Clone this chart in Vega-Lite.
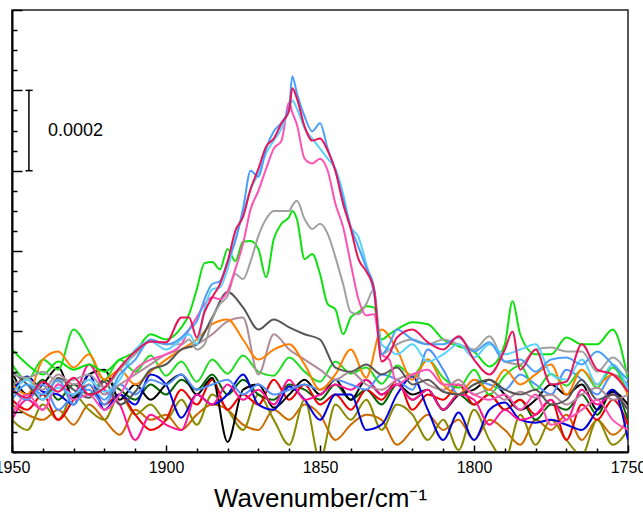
{
  "$schema": "https://vega.github.io/schema/vega-lite/v6.json",
  "width": 616,
  "height": 442,
  "autosize": {"type": "none"},
  "padding": {"left": 12, "top": 10, "right": 15, "bottom": 69},
  "background": "white",
  "config": {
    "view": {"stroke": "#222222", "strokeWidth": 1.5},
    "font": "Liberation Sans",
    "axis": {"zindex": 1},
    "axisX": {"zindex": 1},
    "axisY": {"zindex": 1}
  },
  "datasets": {
    "spectra": [
      {"wavenumber": 1950, "s01": 0.118, "s02": 0.080, "s03": 0.180, "s04": 0.130, "s05": 0.200, "s06": 0.148, "s07": 0.080, "s08": 0.155, "s09": 0.218, "s10": 0.168, "s11": 0.168, "s12": 0.200, "s13": 0.255, "s14": 0.193, "s15": 0.093, "s16": 0.143, "s17": 0.130, "s18": 0.155},
      {"wavenumber": 1945, "s01": 0.093, "s02": 0.055, "s03": 0.143, "s04": 0.105, "s05": 0.143, "s06": 0.188, "s07": 0.130, "s08": 0.130, "s09": 0.180, "s10": 0.180, "s11": 0.143, "s12": 0.168, "s13": 0.218, "s14": 0.185, "s15": 0.143, "s16": 0.180, "s17": 0.168, "s18": 0.135},
      {"wavenumber": 1940, "s01": 0.080, "s02": 0.118, "s03": 0.180, "s04": 0.143, "s05": 0.168, "s06": 0.150, "s07": 0.105, "s08": 0.168, "s09": 0.230, "s10": 0.155, "s11": 0.230, "s12": 0.130, "s13": 0.193, "s14": 0.200, "s15": 0.105, "s16": 0.130, "s17": 0.143, "s18": 0.175},
      {"wavenumber": 1935, "s01": 0.105, "s02": 0.080, "s03": 0.130, "s04": 0.080, "s05": 0.210, "s06": 0.143, "s07": 0.168, "s08": 0.105, "s09": 0.205, "s10": 0.193, "s11": 0.250, "s12": 0.185, "s13": 0.225, "s14": 0.175, "s15": 0.168, "s16": 0.160, "s17": 0.180, "s18": 0.150},
      {"wavenumber": 1930, "s01": 0.068, "s02": 0.143, "s03": 0.168, "s04": 0.130, "s05": 0.135, "s06": 0.118, "s07": 0.143, "s08": 0.143, "s09": 0.305, "s10": 0.168, "s11": 0.210, "s12": 0.155, "s13": 0.205, "s14": 0.180, "s15": 0.130, "s16": 0.143, "s17": 0.118, "s18": 0.185},
      {"wavenumber": 1925, "s01": 0.118, "s02": 0.105, "s03": 0.143, "s04": 0.168, "s05": 0.193, "s06": 0.193, "s07": 0.218, "s08": 0.155, "s09": 0.250, "s10": 0.180, "s11": 0.243, "s12": 0.135, "s13": 0.218, "s14": 0.193, "s15": 0.143, "s16": 0.180, "s17": 0.168, "s18": 0.143},
      {"wavenumber": 1920, "s01": 0.080, "s02": 0.080, "s03": 0.180, "s04": 0.118, "s05": 0.205, "s06": 0.105, "s07": 0.155, "s08": 0.118, "s09": 0.180, "s10": 0.143, "s11": 0.180, "s12": 0.175, "s13": 0.200, "s14": 0.160, "s15": 0.105, "s16": 0.150, "s17": 0.130, "s18": 0.160},
      {"wavenumber": 1915, "s01": 0.043, "s02": 0.143, "s03": 0.155, "s04": 0.143, "s05": 0.130, "s06": 0.143, "s07": 0.118, "s08": 0.168, "s09": 0.230, "s10": 0.168, "s11": 0.205, "s12": 0.118, "s13": 0.230, "s14": 0.205, "s15": 0.143, "s16": 0.180, "s17": 0.193, "s18": 0.210},
      {"wavenumber": 1910, "s01": 0.105, "s02": 0.093, "s03": 0.130, "s04": 0.093, "s05": 0.168, "s06": 0.118, "s07": 0.030, "s08": 0.143, "s09": 0.200, "s10": 0.193, "s11": 0.168, "s12": 0.150, "s13": 0.250, "s14": 0.243, "s15": 0.205, "s16": 0.255, "s17": 0.230, "s18": 0.250},
      {"wavenumber": 1905, "s01": 0.080, "s02": 0.118, "s03": 0.168, "s04": 0.055, "s05": 0.130, "s06": 0.193, "s07": 0.093, "s08": 0.180, "s09": 0.240, "s10": 0.218, "s11": 0.200, "s12": 0.205, "s13": 0.293, "s14": 0.275, "s15": 0.230, "s16": 0.275, "s17": 0.280, "s18": 0.275},
      {"wavenumber": 1900, "s01": 0.093, "s02": 0.080, "s03": 0.143, "s04": 0.080, "s05": 0.168, "s06": 0.168, "s07": 0.068, "s08": 0.168, "s09": 0.190, "s10": 0.243, "s11": 0.230, "s12": 0.218, "s13": 0.280, "s14": 0.268, "s15": 0.243, "s16": 0.255, "s17": 0.268, "s18": 0.273},
      {"wavenumber": 1895, "s01": 0.055, "s02": 0.130, "s03": 0.180, "s04": 0.155, "s05": 0.193, "s06": 0.085, "s07": 0.055, "s08": 0.193, "s09": 0.225, "s10": 0.255, "s11": 0.255, "s12": 0.255, "s13": 0.310, "s14": 0.268, "s15": 0.268, "s16": 0.280, "s17": 0.285, "s18": 0.335},
      {"wavenumber": 1890, "s01": 0.093, "s02": 0.068, "s03": 0.155, "s04": 0.118, "s05": 0.143, "s06": 0.143, "s07": 0.143, "s08": 0.155, "s09": 0.175, "s10": 0.268, "s11": 0.280, "s12": 0.268, "s13": 0.405, "s14": 0.255, "s15": 0.335, "s16": 0.268, "s17": 0.325, "s18": 0.285},
      {"wavenumber": 1885, "s01": 0.118, "s02": 0.143, "s03": 0.193, "s04": 0.180, "s05": 0.185, "s06": 0.118, "s07": 0.118, "s08": 0.168, "s09": 0.230, "s10": 0.293, "s11": 0.318, "s12": 0.335, "s13": 0.473, "s14": 0.330, "s15": 0.385, "s16": 0.405, "s17": 0.418, "s18": 0.385},
      {"wavenumber": 1880, "s01": 0.105, "s02": 0.105, "s03": 0.143, "s04": 0.105, "s05": 0.025, "s06": 0.143, "s07": 0.168, "s08": 0.180, "s09": 0.195, "s10": 0.325, "s11": 0.330, "s12": 0.398, "s13": 0.505, "s14": 0.388, "s15": 0.400, "s16": 0.455, "s17": 0.475, "s18": 0.473},
      {"wavenumber": 1875, "s01": 0.068, "s02": 0.055, "s03": 0.180, "s04": 0.143, "s05": 0.155, "s06": 0.193, "s07": 0.130, "s08": 0.143, "s09": 0.240, "s10": 0.335, "s11": 0.280, "s12": 0.360, "s13": 0.523, "s14": 0.430, "s15": 0.518, "s16": 0.593, "s17": 0.605, "s18": 0.585},
      {"wavenumber": 1870, "s01": 0.055, "s02": 0.143, "s03": 0.143, "s04": 0.118, "s05": 0.168, "s06": 0.118, "s07": 0.155, "s08": 0.168, "s09": 0.200, "s10": 0.193, "s11": 0.230, "s12": 0.305, "s13": 0.505, "s14": 0.538, "s15": 0.650, "s16": 0.693, "s17": 0.685, "s18": 0.705},
      {"wavenumber": 1865, "s01": 0.105, "s02": 0.080, "s03": 0.130, "s04": 0.180, "s05": 0.110, "s06": 0.105, "s07": 0.118, "s08": 0.143, "s09": 0.190, "s10": 0.293, "s11": 0.255, "s12": 0.330, "s13": 0.530, "s14": 0.600, "s15": 0.755, "s16": 0.775, "s17": 0.798, "s18": 0.780},
      {"wavenumber": 1860, "s01": 0.080, "s02": 0.018, "s03": 0.168, "s04": 0.130, "s05": 0.143, "s06": 0.163, "s07": 0.180, "s08": 0.155, "s09": 0.235, "s10": 0.255, "s11": 0.268, "s12": 0.310, "s13": 0.585, "s14": 0.600, "s15": 0.870, "s16": 0.855, "s17": 0.860, "s18": 0.850},
      {"wavenumber": 1855, "s01": 0.118, "s02": 0.130, "s03": 0.155, "s04": 0.168, "s05": 0.180, "s06": 0.130, "s07": 0.130, "s08": 0.168, "s09": 0.200, "s10": 0.230, "s11": 0.218, "s12": 0.293, "s13": 0.480, "s14": 0.580, "s15": 0.730, "s16": 0.805, "s17": 0.835, "s18": 0.810},
      {"wavenumber": 1850, "s01": 0.093, "s02": -0.020, "s03": 0.130, "s04": 0.118, "s05": 0.143, "s06": 0.080, "s07": 0.143, "s08": 0.155, "s09": 0.175, "s10": 0.205, "s11": 0.155, "s12": 0.280, "s13": 0.443, "s14": 0.568, "s15": 0.730, "s16": 0.755, "s17": 0.818, "s18": 0.780},
      {"wavenumber": 1845, "s01": 0.030, "s02": 0.118, "s03": 0.168, "s04": 0.143, "s05": 0.180, "s06": 0.143, "s07": 0.168, "s08": 0.180, "s09": 0.225, "s10": 0.180, "s11": 0.193, "s12": 0.210, "s13": 0.355, "s14": 0.485, "s15": 0.618, "s16": 0.705, "s17": 0.700, "s18": 0.700},
      {"wavenumber": 1840, "s01": 0.068, "s02": 0.080, "s03": 0.130, "s04": 0.105, "s05": 0.130, "s06": 0.143, "s07": 0.155, "s08": 0.168, "s09": 0.195, "s10": 0.200, "s11": 0.255, "s12": 0.200, "s13": 0.335, "s14": 0.348, "s15": 0.468, "s16": 0.560, "s17": 0.560, "s18": 0.555},
      {"wavenumber": 1835, "s01": 0.093, "s02": 0.130, "s03": 0.155, "s04": 0.155, "s05": 0.180, "s06": 0.055, "s07": 0.180, "s08": 0.155, "s09": 0.210, "s10": 0.168, "s11": 0.185, "s12": 0.218, "s13": 0.363, "s14": 0.368, "s15": 0.340, "s16": 0.468, "s17": 0.460, "s18": 0.450},
      {"wavenumber": 1830, "s01": 0.080, "s02": 0.055, "s03": 0.118, "s04": 0.130, "s05": 0.143, "s06": 0.068, "s07": 0.143, "s08": 0.193, "s09": 0.170, "s10": 0.155, "s11": 0.305, "s12": 0.193, "s13": 0.280, "s14": 0.243, "s15": 0.243, "s16": 0.268, "s17": 0.243, "s18": 0.225},
      {"wavenumber": 1825, "s01": 0.018, "s02": 0.118, "s03": 0.168, "s04": 0.180, "s05": 0.168, "s06": 0.143, "s07": 0.168, "s08": 0.180, "s09": 0.215, "s10": 0.180, "s11": 0.255, "s12": 0.210, "s13": 0.305, "s14": 0.268, "s15": 0.168, "s16": 0.243, "s17": 0.305, "s18": 0.285},
      {"wavenumber": 1820, "s01": 0.055, "s02": 0.093, "s03": 0.130, "s04": 0.105, "s05": 0.143, "s06": 0.188, "s07": 0.130, "s08": 0.155, "s09": 0.190, "s10": 0.193, "s11": 0.180, "s12": 0.168, "s13": 0.323, "s14": 0.280, "s15": 0.193, "s16": 0.268, "s17": 0.280, "s18": 0.305},
      {"wavenumber": 1815, "s01": 0.093, "s02": 0.030, "s03": 0.155, "s04": 0.143, "s05": 0.155, "s06": 0.105, "s07": 0.155, "s08": 0.255, "s09": 0.230, "s10": 0.168, "s11": 0.230, "s12": 0.180, "s13": 0.318, "s14": 0.268, "s15": 0.205, "s16": 0.225, "s17": 0.268, "s18": 0.273},
      {"wavenumber": 1810, "s01": 0.055, "s02": 0.080, "s03": 0.105, "s04": 0.130, "s05": 0.105, "s06": 0.030, "s07": 0.105, "s08": 0.205, "s09": 0.185, "s10": 0.155, "s11": 0.168, "s12": 0.150, "s13": 0.280, "s14": 0.280, "s15": 0.168, "s16": 0.243, "s17": 0.268, "s18": 0.255},
      {"wavenumber": 1805, "s01": 0.080, "s02": 0.005, "s03": 0.143, "s04": 0.168, "s05": 0.143, "s06": 0.098, "s07": 0.143, "s08": 0.143, "s09": 0.160, "s10": 0.180, "s11": 0.143, "s12": 0.143, "s13": 0.263, "s14": 0.268, "s15": 0.168, "s16": 0.268, "s17": 0.285, "s18": 0.288},
      {"wavenumber": 1800, "s01": 0.030, "s02": 0.105, "s03": 0.118, "s04": 0.118, "s05": 0.155, "s06": 0.030, "s07": 0.130, "s08": 0.180, "s09": 0.205, "s10": 0.143, "s11": 0.180, "s12": 0.168, "s13": 0.250, "s14": 0.255, "s15": 0.143, "s16": 0.235, "s17": 0.250, "s18": 0.230},
      {"wavenumber": 1795, "s01": 0.080, "s02": 0.030, "s03": 0.143, "s04": 0.143, "s05": 0.180, "s06": 0.105, "s07": 0.068, "s08": 0.168, "s09": 0.143, "s10": 0.155, "s11": 0.155, "s12": 0.180, "s13": 0.213, "s14": 0.288, "s15": 0.130, "s16": 0.268, "s17": 0.273, "s18": 0.193},
      {"wavenumber": 1790, "s01": 0.055, "s02": -0.020, "s03": 0.105, "s04": 0.105, "s05": 0.143, "s06": 0.123, "s07": 0.105, "s08": 0.155, "s09": 0.190, "s10": 0.130, "s11": 0.205, "s12": 0.155, "s13": 0.268, "s14": 0.225, "s15": 0.143, "s16": 0.243, "s17": 0.225, "s18": 0.255},
      {"wavenumber": 1785, "s01": 0.018, "s02": 0.093, "s03": 0.130, "s04": 0.130, "s05": 0.105, "s06": 0.080, "s07": 0.080, "s08": 0.193, "s09": 0.215, "s10": 0.150, "s11": 0.168, "s12": 0.143, "s13": 0.293, "s14": 0.218, "s15": 0.105, "s16": 0.255, "s17": 0.230, "s18": 0.205},
      {"wavenumber": 1780, "s01": 0.080, "s02": 0.018, "s03": 0.080, "s04": 0.093, "s05": 0.130, "s06": 0.073, "s07": 0.093, "s08": 0.168, "s09": 0.155, "s10": 0.135, "s11": 0.193, "s12": 0.155, "s13": 0.243, "s14": 0.255, "s15": 0.143, "s16": 0.268, "s17": 0.200, "s18": 0.255},
      {"wavenumber": 1775, "s01": 0.055, "s02": 0.080, "s03": 0.118, "s04": 0.130, "s05": 0.168, "s06": 0.080, "s07": 0.130, "s08": 0.143, "s09": 0.195, "s10": 0.143, "s11": 0.218, "s12": 0.118, "s13": 0.243, "s14": 0.260, "s15": 0.068, "s16": 0.193, "s17": 0.230, "s18": 0.168},
      {"wavenumber": 1770, "s01": 0.093, "s02": 0.030, "s03": 0.105, "s04": 0.030, "s05": 0.143, "s06": 0.068, "s07": 0.080, "s08": 0.205, "s09": 0.165, "s10": 0.118, "s11": 0.143, "s12": 0.130, "s13": 0.285, "s14": 0.250, "s15": 0.080, "s16": 0.180, "s17": 0.235, "s18": 0.175},
      {"wavenumber": 1765, "s01": 0.030, "s02": -0.008, "s03": 0.143, "s04": 0.118, "s05": 0.168, "s06": 0.055, "s07": 0.155, "s08": 0.180, "s09": 0.205, "s10": 0.143, "s11": 0.205, "s12": 0.180, "s13": 0.268, "s14": 0.250, "s15": 0.105, "s16": 0.230, "s17": 0.218, "s18": 0.268},
      {"wavenumber": 1760, "s01": 0.080, "s02": 0.080, "s03": 0.093, "s04": 0.080, "s05": 0.105, "s06": 0.105, "s07": 0.118, "s08": 0.143, "s09": 0.160, "s10": 0.160, "s11": 0.168, "s12": 0.130, "s13": 0.268, "s14": 0.200, "s15": 0.130, "s16": 0.168, "s17": 0.250, "s18": 0.205},
      {"wavenumber": 1755, "s01": 0.043, "s02": 0.018, "s03": 0.155, "s04": 0.130, "s05": 0.150, "s06": 0.155, "s07": 0.143, "s08": 0.193, "s09": 0.210, "s10": 0.130, "s11": 0.193, "s12": 0.143, "s13": 0.305, "s14": 0.235, "s15": 0.080, "s16": 0.218, "s17": 0.218, "s18": 0.193},
      {"wavenumber": 1750, "s01": 0.080, "s02": 0.055, "s03": 0.080, "s04": 0.068, "s05": 0.118, "s06": 0.030, "s07": 0.105, "s08": 0.168, "s09": 0.143, "s10": 0.143, "s11": 0.143, "s12": 0.105, "s13": 0.180, "s14": 0.193, "s15": 0.055, "s16": 0.155, "s17": 0.180, "s18": 0.150},
      {"wavenumber": 1892.5, "s13": 0.343, "s14": 0.280, "s15": 0.305, "s16": 0.293, "s17": 0.305, "s18": 0.335},
      {"wavenumber": 1887.5, "s13": 0.470, "s14": 0.268, "s15": 0.368, "s16": 0.355, "s17": 0.380, "s18": 0.348},
      {"wavenumber": 1882.5, "s13": 0.455, "s14": 0.368, "s15": 0.380, "s16": 0.410, "s17": 0.425, "s18": 0.418},
      {"wavenumber": 1877.5, "s13": 0.475, "s14": 0.443, "s15": 0.455, "s16": 0.530, "s17": 0.525, "s18": 0.550},
      {"wavenumber": 1872.5, "s13": 0.525, "s14": 0.475, "s15": 0.605, "s16": 0.655, "s17": 0.700, "s18": 0.655},
      {"wavenumber": 1867.5, "s13": 0.435, "s14": 0.580, "s15": 0.705, "s16": 0.743, "s17": 0.755, "s18": 0.760},
      {"wavenumber": 1862.5, "s13": 0.568, "s14": 0.600, "s15": 0.775, "s16": 0.805, "s17": 0.820, "s18": 0.818},
      {"wavenumber": 1859, "s13": 0.600, "s14": 0.613, "s15": 0.845, "s16": 0.875, "s17": 0.935, "s18": 0.905},
      {"wavenumber": 1857.5, "s13": 0.580, "s14": 0.625, "s15": 0.815, "s16": 0.855, "s17": 0.893, "s18": 0.880},
      {"wavenumber": 1852.5, "s13": 0.493, "s14": 0.555, "s15": 0.718, "s16": 0.780, "s17": 0.798, "s18": 0.775},
      {"wavenumber": 1847.5, "s13": 0.368, "s14": 0.543, "s15": 0.700, "s16": 0.730, "s17": 0.755, "s18": 0.750},
      {"wavenumber": 1842.5, "s13": 0.293, "s14": 0.418, "s15": 0.560, "s16": 0.643, "s17": 0.630, "s18": 0.618},
      {"wavenumber": 1837.5, "s13": 0.348, "s14": 0.343, "s15": 0.380, "s16": 0.535, "s17": 0.510, "s18": 0.480},
      {"wavenumber": 1832.5, "s13": 0.360, "s14": 0.405, "s15": 0.343, "s16": 0.393, "s17": 0.410, "s18": 0.405},
      {"wavenumber": 1827.5, "s13": 0.293, "s14": 0.255, "s15": 0.230, "s16": 0.255, "s17": 0.268, "s18": 0.243},
      {"wavenumber": 1787.5, "s13": 0.375, "s18": 0.300}
    ]
  },
  "encoding": {
    "x": {
      "field": "wavenumber",
      "type": "quantitative",
      "scale": {"domain": [1750, 1950], "reverse": true, "nice": false, "zero": false},
      "axis": {
        "values": [1750, 1760, 1770, 1780, 1790, 1800, 1810, 1820, 1830, 1840, 1850, 1860, 1870, 1880, 1890, 1900, 1910, 1920, 1930, 1940, 1950],
        "format": "d",
        "labelExpr": "datum.value % 50 === 0 ? datum.label : ''",
        "labelFlush": false,
        "labelOverlap": false,
        "labelBound": false,
        "labelFont": "Liberation Sans",
        "labelFontSize": 16,
        "labelColor": "black",
        "labelPadding": 14,
        "tickColor": "black",
        "tickWidth": 1.5,
        "tickSize": {"condition": {"test": "datum.value % 50 === 0", "value": -7}, "value": -4},
        "domainColor": "black",
        "domainWidth": 2,
        "grid": false,
        "zindex": 1,
        "title": "Wavenumber/cm⁻¹",
        "titleFont": "Liberation Sans",
        "titleFontSize": 26,
        "titleFontWeight": "normal",
        "titleColor": "black",
        "titlePadding": 7
      }
    },
    "y": {
      "field": "mAbs",
      "type": "quantitative",
      "scale": {"domain": [0, 1.1], "nice": false, "zero": false},
      "axis": {
        "values": [0, 0.05, 0.1, 0.15, 0.2, 0.25, 0.3, 0.35, 0.4, 0.45, 0.5, 0.55, 0.6, 0.65, 0.7, 0.75, 0.8, 0.85, 0.9, 0.95, 1, 1.05, 1.1],
        "labels": false,
        "title": null,
        "grid": false,
        "zindex": 1,
        "tickColor": "black",
        "tickWidth": 1.5,
        "tickSize": {"condition": {"test": "round(datum.value * 20) % 4 == 2", "value": -10}, "value": -5},
        "domainColor": "black",
        "domainWidth": 2
      }
    }
  },
  "layer": [
    {
      "data": {"name": "spectra"},
      "transform": [
        {"fold": ["s01", "s02", "s03", "s04", "s05", "s06", "s07", "s08", "s09", "s10", "s11", "s12", "s13", "s14", "s15", "s16", "s17", "s18"], "as": ["series", "mAbs"]},
        {"filter": "isValid(datum.mAbs)"}
      ],
      "mark": {"type": "line", "interpolate": "monotone", "strokeWidth": 2, "clip": true},
      "encoding": {
        "color": {
          "field": "series",
          "type": "nominal",
          "scale": {
            "domain": ["s01", "s02", "s03", "s04", "s05", "s06", "s07", "s08", "s09", "s10", "s11", "s12", "s13", "s14", "s15", "s16", "s17", "s18"],
            "range": ["#cc6a00", "#8a8a00", "#006400", "#ee0000", "#000000", "#0000dd", "#ff1493", "#5090ff", "#22dd22", "#b08c98", "#ff8000", "#555555", "#10e010", "#a0a0a0", "#ff50b4", "#5ad2ff", "#4aa0f8", "#e8145a"]
          },
          "legend": null
        }
      }
    },
    {
      "data": {"values": [{"wavenumber": 1944.5, "mAbs": 0.7, "mAbsEnd": 0.9}]},
      "mark": {"type": "rule", "color": "black", "strokeWidth": 1.5},
      "encoding": {"y2": {"field": "mAbsEnd"}}
    },
    {
      "data": {"values": [{"wavenumber": 1945.6, "wnEnd": 1943.3, "mAbs": 0.7}, {"wavenumber": 1945.6, "wnEnd": 1943.3, "mAbs": 0.9}]},
      "mark": {"type": "rule", "color": "black", "strokeWidth": 1.5},
      "encoding": {"x2": {"field": "wnEnd"}}
    },
    {
      "data": {"values": [{"wavenumber": 1938.3, "mAbs": 0.8, "label": "0.0002"}]},
      "mark": {"type": "text", "align": "left", "baseline": "middle", "fontSize": 18, "font": "Liberation Sans", "color": "black"},
      "encoding": {"text": {"field": "label"}}
    }
  ]
}
